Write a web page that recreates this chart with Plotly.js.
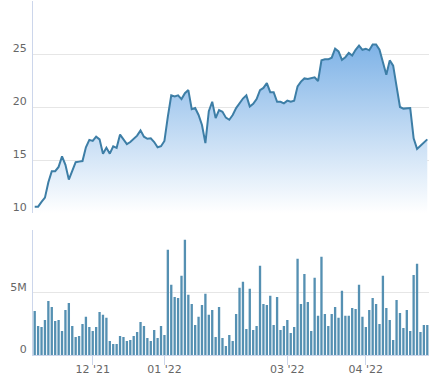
<!DOCTYPE html>
<html>
<head>
<meta charset="utf-8">
<script src="https://cdn.plot.ly/plotly-3.0.1.min.js"></script>
<style>html,body{margin:0;padding:0;background:#fff;}#chart{width:434px;height:375px;}</style>
</head>
<body>
<div id="chart"></div>
<script>
var price = [10.6,10.6,11.05,11.45,12.9,13.95,13.95,14.35,15.35,14.55,
13.15,14.05,14.8,14.85,14.9,16.2,16.9,16.8,17.2,16.95,
15.6,16.15,15.6,16.3,16.15,17.4,17.0,16.5,16.7,17.05,
17.3,17.8,17.2,17.0,17.05,16.7,16.2,16.3,16.8,19.1,
21.1,21.0,21.1,20.75,21.3,21.6,19.8,19.9,19.25,18.3,
16.6,19.6,20.5,18.95,19.7,19.55,19.0,18.8,19.25,19.9,
20.35,20.8,21.1,20.05,20.3,20.75,21.6,21.8,22.25,21.4,
21.4,20.5,20.5,20.35,20.6,20.5,20.6,21.95,22.4,22.7,
22.65,22.75,22.8,22.45,24.4,24.5,24.5,24.65,25.5,25.25,
24.45,24.7,25.1,24.85,25.4,25.8,25.4,25.5,25.35,25.9,
25.9,25.4,24.3,23.05,24.4,23.9,21.95,20.0,19.85,19.9,
19.9,17.05,16.05,16.35,16.65,16.95];

var volumeM = [3.54,2.33,2.25,2.81,4.34,3.86,2.73,2.81,1.93,3.62,
4.18,2.33,1.45,1.53,2.49,3.06,2.25,1.93,2.25,3.46,
3.22,2.98,1.13,0.88,0.88,1.53,1.45,1.13,1.21,1.53,
1.85,2.65,2.33,1.37,1.13,2.01,1.37,2.33,1.61,8.45,
5.63,4.66,4.58,6.35,9.25,4.83,4.10,2.41,3.06,4.02,
4.91,3.22,3.62,1.45,3.86,1.37,0.72,1.61,1.13,3.30,
5.39,5.87,2.09,5.31,2.01,2.33,7.16,4.10,4.02,4.75,
2.41,4.66,2.01,2.33,2.81,1.77,2.25,7.72,4.10,6.51,
4.26,1.93,6.19,3.14,7.88,3.30,2.33,3.30,3.86,2.98,
5.15,3.14,3.14,3.78,3.70,5.63,3.06,2.25,3.62,4.58,
4.10,2.49,6.35,3.78,2.81,1.21,4.42,3.38,2.17,3.62,
1.93,6.43,7.32,1.85,2.41,2.41];

var xTickIdx = [17, 38, 74, 97];
var xTickLabels = ["12 '21", "01 '22", "03 '22", "04 '22"];
var priceTicks = [10, 15, 20, 25, 30];
var priceTickLabels = ["10", "15", "20", "25", ""];
var volTicks = [0, 5, 10];
var volTickLabels = ["0", "5M", ""];

var idx = price.map(function (_, i) { return i; });

var font = {family: "DejaVu Sans, sans-serif", size: 11, color: "#666666"};

var traces = [
  {
    type: "scatter", mode: "lines", x: idx, y: price,
    xaxis: "x", yaxis: "y",
    line: {color: "#3d7ea6", width: 2},
    fill: "tozeroy",
    fillgradient: {type: "vertical", start: 10, stop: 26.5,
      colorscale: [[0, "rgba(255,255,255,1)"], [1, "rgb(122,176,230)"]]},
    hoverinfo: "skip"
  },
  {
    type: "bar", x: idx, y: volumeM,
    xaxis: "x2", yaxis: "y2",
    marker: {color: "#5590b2", line: {width: 0}},
    hoverinfo: "skip"
  }
];

var layout = {
  width: 434, height: 375,
  margin: {l: 33, r: 5, t: 1, b: 20, autoexpand: false},
  paper_bgcolor: "#ffffff", plot_bgcolor: "#ffffff",
  showlegend: false,
  font: font,
  bargap: 0.32,
  xaxis: {
    domain: [0, 1], range: [-0.5, 115.5], anchor: "y",
    showgrid: false, zeroline: false, showline: false,
    showticklabels: false, ticks: ""
  },
  yaxis: {
    domain: [0.401, 1], range: [10, 30], anchor: "x",
    tickmode: "array", tickvals: priceTicks, ticktext: priceTickLabels,
    gridcolor: "#e6e6e6", gridwidth: 1, zeroline: false,
    showline: true, linecolor: "#ccd6eb", linewidth: 1,
    ticks: "", ticklabelshift: -6, ticklabelstandoff: 3,
    tickfont: font, automargin: false
  },
  xaxis2: {
    domain: [0, 1], range: [-0.5, 115.5], anchor: "y2",
    tickmode: "array", tickvals: xTickIdx, ticktext: xTickLabels,
    showgrid: false, zeroline: false,
    showline: true, linecolor: "#ccd6eb", linewidth: 1,
    ticks: "outside", ticklen: 9, tickcolor: "#ccd6eb", tickwidth: 1,
    ticklabelstandoff: -5,
    tickfont: font, automargin: false
  },
  yaxis2: {
    domain: [0, 0.352], range: [0, 10], anchor: "x2",
    tickmode: "array", tickvals: volTicks, ticktext: volTickLabels,
    gridcolor: "#e6e6e6", gridwidth: 1, zeroline: false,
    showline: true, linecolor: "#ccd6eb", linewidth: 1,
    ticks: "", ticklabelshift: -6, ticklabelstandoff: 3,
    tickfont: font, automargin: false
  }
};

Plotly.newPlot("chart", traces, layout, {staticPlot: true, displayModeBar: false});
</script>
</body>
</html>
